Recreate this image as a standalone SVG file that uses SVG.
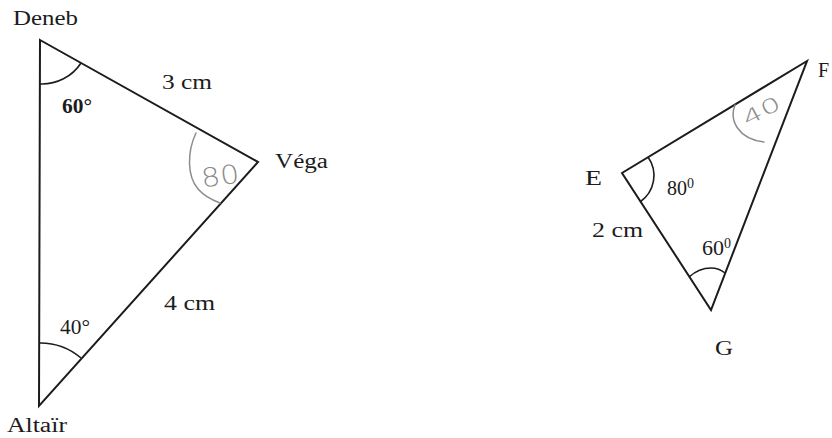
<svg xmlns="http://www.w3.org/2000/svg" width="832" height="438" viewBox="0 0 832 438">
<style>
.edge{fill:none;stroke:#1c1c1c;stroke-width:2;stroke-linejoin:miter}
.arc{fill:none;stroke:#1c1c1c;stroke-width:1.6}
.hand{fill:none;stroke:#8c8c8c;stroke-width:1.5;stroke-linecap:round}
.lbl{font-family:"Liberation Serif","Times New Roman",serif;font-size:20px;fill:#1c1c1c}
.hw{font-family:"DejaVu Sans","Liberation Sans",sans-serif;font-weight:200;fill:#8c8c8c}
</style>
<rect width="832" height="438" fill="#ffffff"/>
<g id="triangle-left">
<polygon class="edge" points="40,40 258,162 39,406"/>
<path class="arc" d="M40,84 A46 44 0 0 0 81,63"/>
<path class="arc" d="M39,343 A63 63 0 0 1 81,358"/>
<path class="hand" d="M196,133 C187,152 187,176 198,189 C205,197 212,200 220,203"/>
<text class="hw" x="201" y="185" font-size="26" textLength="38" lengthAdjust="spacingAndGlyphs" transform="rotate(-8 220 175)">80</text>
</g>
<g id="labels-left" class="lbl">
<text x="13" y="25" textLength="65" lengthAdjust="spacingAndGlyphs">Deneb</text>
<text x="162" y="89" textLength="50" lengthAdjust="spacingAndGlyphs">3 cm</text>
<text x="62" y="113" font-weight="bold" textLength="30" lengthAdjust="spacingAndGlyphs">60°</text>
<text x="275" y="168" textLength="53" lengthAdjust="spacingAndGlyphs">Véga</text>
<text x="164" y="310" textLength="51" lengthAdjust="spacingAndGlyphs">4 cm</text>
<text x="60" y="334" textLength="30" lengthAdjust="spacingAndGlyphs">40°</text>
<text x="7" y="432" textLength="60" lengthAdjust="spacingAndGlyphs">Altaïr</text>
</g>
<g id="triangle-right">
<polygon class="edge" points="807,61 622,173 711,310"/>
<path class="arc" d="M648,157 A32 32 0 0 1 640,202"/>
<path class="arc" d="M689,277 Q699,268 711,268 Q719,268 725,273"/>
<path class="hand" d="M735,105 C729,120 738,139 764,142"/>
<text class="hw" x="761" y="118" font-size="20" text-anchor="middle" textLength="40" lengthAdjust="spacingAndGlyphs" transform="rotate(-28 761 110)">40</text>
</g>
<g id="labels-right" class="lbl">
<text x="818" y="77">F</text>
<text x="585" y="185" textLength="17" lengthAdjust="spacingAndGlyphs">E</text>
<text x="667" y="195"><tspan textLength="20" lengthAdjust="spacingAndGlyphs">80</tspan><tspan font-size="14" dy="-7">0</tspan></text>
<text x="592" y="237" textLength="51" lengthAdjust="spacingAndGlyphs">2 cm</text>
<text x="702" y="255"><tspan textLength="22" lengthAdjust="spacingAndGlyphs">60</tspan><tspan font-size="14" dy="-7">0</tspan></text>
<text x="715" y="355" textLength="18" lengthAdjust="spacingAndGlyphs">G</text>
</g>
</svg>
